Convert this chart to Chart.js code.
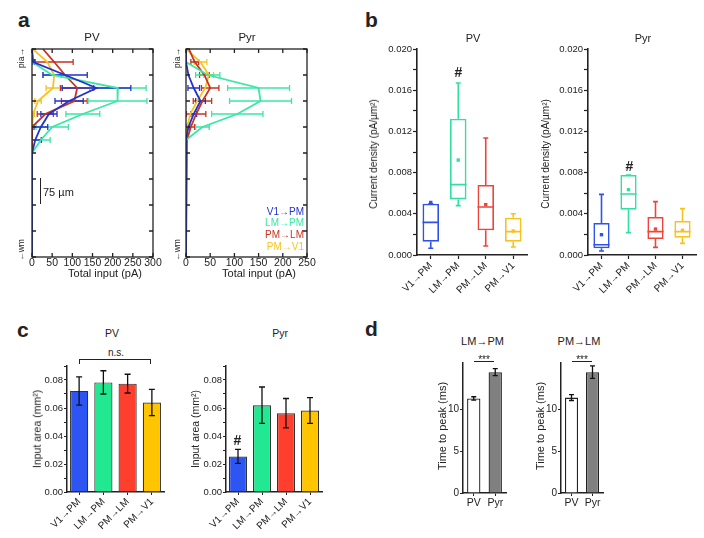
<!DOCTYPE html>
<html>
<head>
<meta charset="utf-8">
<script src="https://cdn.jsdelivr.net/npm/chart.js@4.4.1/dist/chart.umd.min.js"></script>
<style>
  body { margin: 0; width: 704px; height: 538px; position: relative; overflow: hidden; background: #fff;
         font-family: "Liberation Sans", Arial, sans-serif; color: #222; }
  canvas { position: absolute; }
  .t { position: absolute; white-space: nowrap; line-height: 1; }
  .line { position: absolute; background: #222; }
</style>
</head>
<body>
<script>
// ---- data ----
const depthBins = [0, 1, 2, 3, 4, 5, 6, 7, 8, 9, 10, 11, 12, 13, 14, 15, 16];
const pathways = ['V1→PM', 'LM→PM', 'PM→LM', 'PM→V1'];
const cellTypes = ['PV', 'Pyr'];

// panel a: total input (pA) per depth bin, pia -> wm
const pvV1PM     = [0, 3, 82, 160, 92, 42, 22, 8, 0, 0, 0, 0, 0, 0, 0, 0, 0];
const pvV1PMErr  = [0, 3, 55, 85, 35, 20, 17, 15, 0, 0, 0, 0, 0, 0, 0, 0, 0];
const pvLMPM     = [0, 0, 50, 213, 212, 126, 50, 22, 0, 0, 0, 0, 0, 0, 0, 0, 0];
const pvLMPMErr  = [0, 0, 22, 70, 73, 42, 40, 23, 0, 0, 0, 0, 0, 0, 0, 0, 0];
const pvPMLM     = [27, 55, 82, 112, 105, 33, 0, 0, 0, 0, 0, 0, 0, 0, 0, 0, 0];
const pvPMLMErr  = [0, 47, 0, 41, 32, 20, 0, 0, 0, 0, 0, 0, 0, 0, 0, 0, 0];
const pvPMV1     = [2, 38, 55, 52, 15, 3, 0, 0, 0, 0, 0, 0, 0, 0, 0, 0, 0];
const pvPMV1Err  = [0, 0, 0, 17, 8, 3, 0, 0, 0, 0, 0, 0, 0, 0, 0, 0, 0];

const pyrV1PM    = [0, 0, 5, 16, 30, 16, 5, 0, 0, 0, 0, 0, 0, 0, 0, 0, 0];
const pyrV1PMErr = [0, 0, 0, 12, 10, 6, 3, 0, 0, 0, 0, 0, 0, 0, 0, 0, 0];
const pyrLMPM    = [0, 0, 45, 150, 154, 106, 34, 0, 0, 0, 0, 0, 0, 0, 0, 0, 0];
const pyrLMPMErr = [0, 0, 25, 64, 64, 53, 14, 0, 0, 0, 0, 0, 0, 0, 0, 0, 0];
const pyrPMLM    = [6, 18, 38, 50, 34, 21, 10, 2, 0, 0, 0, 0, 0, 0, 0, 0, 0];
const pyrPMLMErr = [0, 8, 10, 18, 19, 20, 8, 0, 0, 0, 0, 0, 0, 0, 0, 0, 0];
const pyrPMV1    = [0, 30, 47, 40, 23, 9, 2, 0, 0, 0, 0, 0, 0, 0, 0, 0, 0];
const pyrPMV1Err = [0, 13, 10, 0, 0, 0, 0, 0, 0, 0, 0, 0, 0, 0, 0, 0, 0];

// panel b: current density box plots (pA/um2)
const pvMin   = [0.00065, 0.00479, 0.00087, 0.00078];
const pvQ1    = [0.00129, 0.0054, 0.0024, 0.00129];
const pvMed   = [0.00317, 0.00683, 0.00466, 0.00227];
const pvQ3    = [0.00498, 0.01324, 0.0068, 0.00362];
const pvMax   = [0.00498, 0.0167, 0.01136, 0.0040];
const pvMean  = [0.0051, 0.00922, 0.00489, 0.00233];
const pyrMin  = [0.00039, 0.00217, 0.00074, 0.00113];
const pyrQ1   = [0.00065, 0.0044, 0.00155, 0.00168];
const pyrMed  = [0.001, 0.00592, 0.00227, 0.00227];
const pyrQ3   = [0.00311, 0.00777, 0.00369, 0.0033];
const pyrMax  = [0.00589, 0.00777, 0.00518, 0.0045];
const pyrMean = [0.00197, 0.00634, 0.00252, 0.0024];

// panel c: input area (mm2)
const areaPV     = [0.0722, 0.0783, 0.0774, 0.0639];
const areaPVErr  = [0.0101, 0.0083, 0.0067, 0.0094];
const areaPyr    = [0.0254, 0.062, 0.0563, 0.0582];
const areaPyrErr = [0.005, 0.013, 0.0105, 0.0092];

// panel d: time to peak (ms)
const peakLMPM    = [11.35, 14.5];
const peakLMPMErr = [0.2, 0.42];
const peakPMLM    = [11.45, 14.5];
const peakPMLMErr = [0.35, 0.75];

// ---- styles ----
const INK = '#222';
const FONT = '"Liberation Sans", Arial, sans-serif';
const lineColors = ['#2233cc', '#3be6a6', '#c8321f', '#f5c423'];
const boxColors  = ['#2f52ea', '#2fe0a0', '#f0443a', '#f6c21d'];
const barColors  = ['#2d55f4', '#22e892', '#ff3f2e', '#ffc600'];
const PAD = { left: 6, right: 14, top: 8, bottom: 4 };

Chart.defaults.font.family = FONT;
Chart.defaults.color = INK;

function zeroPad(s) { s.paddingLeft = s.paddingRight = s.paddingTop = s.paddingBottom = 0; }
function isStep(v, s) { return Math.abs(v / s - Math.round(v / s)) < 1e-6; }

function makeChart(area, yW, xH, config) {
  const c = document.createElement('canvas');
  const w = area.x1 - area.x0 + yW + PAD.left + PAD.right;
  const h = area.y1 - area.y0 + xH + PAD.top + PAD.bottom;
  c.width = w; c.height = h;
  c.style.left = (area.x0 - yW - PAD.left) + 'px';
  c.style.top = (area.y0 - PAD.top) + 'px';
  c.style.width = w + 'px'; c.style.height = h + 'px';
  document.body.appendChild(c);
  const o = config.options;
  o.responsive = false;
  o.animation = false;
  o.layout = { padding: PAD };
  o.plugins = { legend: { display: false }, tooltip: { enabled: false } };
  o.scales.x.afterFit = s => { s.height = xH; zeroPad(s); };
  o.scales.y.afterFit = s => { s.width = yW; zeroPad(s); };
  return new Chart(c, config);
}

function txt(s, x, base, size, opt) {
  opt = opt || {};
  const d = document.createElement('div');
  d.className = 't';
  d.textContent = s;
  d.style.fontSize = size + 'px';
  if (opt.bold) d.style.fontWeight = 'bold';
  if (opt.color) d.style.color = opt.color;
  d.style.left = x + 'px';
  if (opt.rot) {
    d.style.top = base + 'px';
    d.style.transform = 'translate(-50%,-50%) rotate(-90deg)';
  } else {
    d.style.top = (base - 0.8465 * size) + 'px';
    const a = opt.align || 'center';
    d.style.transform = a === 'center' ? 'translateX(-50%)' : a === 'right' ? 'translateX(-100%)' : 'none';
  }
  document.body.appendChild(d);
}

function rule(x, y, w, h) {
  const d = document.createElement('div');
  d.className = 'line';
  Object.assign(d.style, { left: x + 'px', top: y + 'px', width: w + 'px', height: h + 'px' });
  document.body.appendChild(d);
}

// ---- plugins ----
const frame = {
  id: 'frame',
  afterDraw(chart) {
    const { ctx, chartArea: a, scales: { x, y } } = chart;
    ctx.save();
    ctx.strokeStyle = INK; ctx.lineWidth = 1.3;
    ctx.strokeRect(a.left, a.top, a.right - a.left, a.bottom - a.top);
    ctx.beginPath();
    x.ticks.forEach(t => {
      const p = x.getPixelForValue(t.value);
      ctx.moveTo(p, a.top); ctx.lineTo(p, a.top + 4);
      ctx.moveTo(p, a.bottom); ctx.lineTo(p, a.bottom - 4);
    });
    y.ticks.forEach(t => {
      const p = y.getPixelForValue(t.value);
      ctx.moveTo(a.left, p); ctx.lineTo(a.left + 4, p);
      ctx.moveTo(a.right, p); ctx.lineTo(a.right - 4, p);
    });
    ctx.stroke();
    ctx.restore();
  }
};

const hErr = {
  id: 'hErr',
  beforeDatasetsDraw(chart) {
    const { ctx, chartArea: a, scales: { x, y } } = chart;
    ctx.save();
    ctx.beginPath(); ctx.rect(a.left, a.top, a.right - a.left, a.bottom - a.top); ctx.clip();
    ctx.lineWidth = 1.3;
    chart.data.datasets.slice().reverse().forEach(ds => {
      ctx.strokeStyle = ds.borderColor;
      ds.errs.forEach((e, i) => {
        if (!e) return;
        const v = ds.vals[i], py = y.getPixelForValue(depthBins[i]);
        const xa = x.getPixelForValue(v - e), xb = x.getPixelForValue(v + e);
        ctx.beginPath();
        ctx.moveTo(xa, py); ctx.lineTo(xb, py);
        ctx.moveTo(xa, py - 3); ctx.lineTo(xa, py + 3);
        ctx.moveTo(xb, py - 3); ctx.lineTo(xb, py + 3);
        ctx.stroke();
      });
    });
    ctx.restore();
  }
};

function whiskers(st) {
  return {
    id: 'whiskers',
    beforeDatasetsDraw(chart) {
      const { ctx, scales: { x, y } } = chart;
      const bars = chart.getDatasetMeta(0).data;
      ctx.save();
      ctx.lineWidth = 1.6;
      st.med.forEach((m, i) => {
        const px = x.getPixelForValue(i), half = bars[i].width / 2, cap = 2.5;
        const yMax = y.getPixelForValue(st.max[i]), yMin = y.getPixelForValue(st.min[i]);
        ctx.strokeStyle = boxColors[i];
        ctx.beginPath();
        ctx.moveTo(px, y.getPixelForValue(st.q3[i])); ctx.lineTo(px, yMax);
        ctx.moveTo(px - cap, yMax); ctx.lineTo(px + cap, yMax);
        ctx.moveTo(px, y.getPixelForValue(st.q1[i])); ctx.lineTo(px, yMin);
        ctx.moveTo(px - cap, yMin); ctx.lineTo(px + cap, yMin);
        const ym = y.getPixelForValue(m);
        ctx.moveTo(px - half, ym); ctx.lineTo(px + half, ym);
        ctx.stroke();
      });
      ctx.restore();
    }
  };
}

function vErr(vals, errs, cap) {
  return {
    id: 'vErr',
    afterDatasetsDraw(chart) {
      const { ctx, scales: { x, y } } = chart;
      ctx.save();
      ctx.strokeStyle = '#111'; ctx.lineWidth = 1.3;
      vals.forEach((v, i) => {
        const px = x.getPixelForValue(i);
        const ya = y.getPixelForValue(v + errs[i]), yb = y.getPixelForValue(v - errs[i]);
        ctx.beginPath();
        ctx.moveTo(px, ya); ctx.lineTo(px, yb);
        ctx.moveTo(px - cap, ya); ctx.lineTo(px + cap, ya);
        ctx.moveTo(px - cap, yb); ctx.lineTo(px + cap, yb);
        ctx.stroke();
      });
      ctx.restore();
    }
  };
}

// ---- panel a ----
function depthChart(area, xMax, series) {
  makeChart(area, 0, 16, {
    type: 'scatter',
    data: {
      datasets: series.map((s, k) => ({
        data: s.vals.map((v, i) => ({ x: v, y: depthBins[i] })),
        vals: s.vals, errs: s.errs,
        borderColor: lineColors[k], backgroundColor: lineColors[k],
        showLine: true, pointRadius: 0, borderWidth: 1.8
      }))
    },
    options: {
      scales: {
        x: { type: 'linear', min: 0, max: xMax,
             ticks: { stepSize: 50, autoSkip: false, font: { size: 10.5 }, padding: 0, maxRotation: 0 },
             grid: { display: false, drawTicks: false, tickLength: 0 }, border: { display: false } },
        y: { type: 'linear', reverse: true, min: 0, max: 16,
             ticks: { display: false, stepSize: 2 },
             grid: { display: false, drawTicks: false, tickLength: 0 }, border: { display: false } }
      }
    },
    plugins: [hErr, frame]
  });
}

depthChart({ x0: 32, x1: 153, y0: 49, y1: 257 }, 300, [
  { vals: pvV1PM, errs: pvV1PMErr }, { vals: pvLMPM, errs: pvLMPMErr },
  { vals: pvPMLM, errs: pvPMLMErr }, { vals: pvPMV1, errs: pvPMV1Err }
]);
depthChart({ x0: 186, x1: 307, y0: 49, y1: 257 }, 250, [
  { vals: pyrV1PM, errs: pyrV1PMErr }, { vals: pyrLMPM, errs: pyrLMPMErr },
  { vals: pyrPMLM, errs: pyrPMLMErr }, { vals: pyrPMV1, errs: pyrPMV1Err }
]);

// ---- panel b ----
function boxChart(area, st) {
  makeChart(area, 36, 44, {
    type: 'bar',
    data: {
      labels: pathways,
      datasets: [
        { data: st.q1.map((v, i) => [v, st.q3[i]]), backgroundColor: 'rgba(255,255,255,0)',
          borderColor: boxColors, borderWidth: 1.6, borderSkipped: false,
          barPercentage: 0.6, categoryPercentage: 1 },
        { type: 'line', data: st.mean, showLine: false, pointStyle: 'rect', pointRadius: 2.4,
          pointBackgroundColor: boxColors, pointBorderColor: boxColors, pointBorderWidth: 0 }
      ]
    },
    options: {
      scales: {
        x: { offset: true,
             grid: { offset: false, drawOnChartArea: false, tickLength: 4, color: INK, tickWidth: 1.2 },
             border: { color: INK, width: 1.6 },
             ticks: { minRotation: 45, maxRotation: 45, font: { size: 10 }, padding: 1 } },
        y: { min: 0, max: 0.02,
             ticks: { stepSize: 0.002, autoSkip: false, font: { size: 9.5 }, padding: 1,
                      callback: v => isStep(v, 0.004) ? v.toFixed(3) : '' },
             grid: { drawOnChartArea: false, tickLength: 4, color: INK, tickWidth: 1.2 },
             border: { color: INK, width: 1.6 } }
      }
    },
    plugins: [whiskers(st)]
  });
}

boxChart({ x0: 417, x1: 527, y0: 49, y1: 255 },
  { min: pvMin, q1: pvQ1, med: pvMed, q3: pvQ3, max: pvMax, mean: pvMean });
boxChart({ x0: 588, x1: 696, y0: 49, y1: 255 },
  { min: pyrMin, q1: pyrQ1, med: pyrMed, q3: pyrQ3, max: pyrMax, mean: pyrMean });

// ---- panel c ----
function areaChart(area, vals, errs) {
  makeChart(area, 32, 44, {
    type: 'bar',
    data: {
      labels: pathways,
      datasets: [{ data: vals, backgroundColor: barColors, borderColor: '#333', borderWidth: 1.2,
                   barPercentage: 0.75, categoryPercentage: 1 }]
    },
    options: {
      scales: {
        x: { grid: { offset: false, drawOnChartArea: false, tickLength: 3, color: INK },
             border: { color: INK, width: 1.5 },
             ticks: { minRotation: 45, maxRotation: 45, font: { size: 10 }, padding: 1 } },
        y: { min: 0, max: 0.09,
             ticks: { stepSize: 0.01, autoSkip: false, font: { size: 9.5 }, padding: 1,
                      callback: v => isStep(v, 0.02) ? v.toFixed(2) : '' },
             grid: { drawOnChartArea: false, tickLength: 3, color: INK },
             border: { color: INK, width: 1.5 } }
      }
    },
    plugins: [vErr(vals, errs, 3)]
  });
}

areaChart({ x0: 67, x1: 164, y0: 366, y1: 492 }, areaPV, areaPVErr);
areaChart({ x0: 226, x1: 322, y0: 366, y1: 492 }, areaPyr, areaPyrErr);

// ---- panel d ----
function peakChart(area, vals, errs) {
  makeChart(area, 20, 16, {
    type: 'bar',
    data: {
      labels: cellTypes,
      datasets: [{ data: vals, backgroundColor: ['#ffffff', '#808080'], borderColor: INK, borderWidth: 1.3,
                   barPercentage: 0.62, categoryPercentage: 1 }]
    },
    options: {
      scales: {
        x: { grid: { offset: false, drawOnChartArea: false, tickLength: 3, color: INK },
             border: { color: INK, width: 1.5 },
             ticks: { maxRotation: 0, font: { size: 10.5 }, padding: 1 } },
        y: { min: 0, max: 15.6,
             ticks: { stepSize: 5, font: { size: 10 }, padding: 1 },
             afterBuildTicks: s => { s.ticks = s.ticks.filter(t => isStep(t.value, 5)); },
             grid: { drawOnChartArea: false, tickLength: 3, color: INK },
             border: { color: INK, width: 1.5 } }
      }
    },
    plugins: [vErr(vals, errs, 2.5)]
  });
}

peakChart({ x0: 463, x1: 506, y0: 363, y1: 493 }, peakLMPM, peakLMPMErr);
peakChart({ x0: 561, x1: 603, y0: 363, y1: 493 }, peakPMLM, peakPMLMErr);

// ---- text & annotations ----
txt('a', 18, 27, 21, { bold: true, align: 'left' });
txt('b', 365, 27, 21, { bold: true, align: 'left' });
txt('c', 17, 337, 21, { bold: true, align: 'left' });
txt('d', 365, 336, 21, { bold: true, align: 'left' });

// a
txt('PV', 92, 42, 11.5);
txt('Pyr', 247, 42, 11.5);
txt('Total input (pA)', 105, 277, 11);
txt('Total input (pA)', 259, 277, 11);
txt('pia→', 21, 58, 8.5, { rot: true });
txt('←wm', 21, 250, 8.5, { rot: true });
txt('pia→', 177, 58, 8.5, { rot: true });
txt('←wm', 177, 250, 8.5, { rot: true });
rule(39.5, 178, 1.2, 26);
txt('75 µm', 43, 196, 11, { align: 'left' });
pathways.forEach((p, i) => txt(p, 304, [215, 226.5, 238, 250.5][i], 10, { align: 'right', color: lineColors[i] }));

// b
txt('PV', 473, 42.7, 11);
txt('Pyr', 643, 42.7, 11);
txt('Current density (pA/µm²)', 374, 154, 10, { rot: true });
txt('Current density (pA/µm²)', 546, 154, 10, { rot: true });
txt('#', 458.5, 77, 14, { bold: true });
txt('#', 629.5, 171, 14, { bold: true });

// c
txt('PV', 112, 336.5, 10.5);
txt('Pyr', 280, 336.5, 10.5);
txt('Input area (mm²)', 37, 429, 10.5, { rot: true });
txt('Input area (mm²)', 195, 429, 10.5, { rot: true });
txt('n.s.', 116, 356, 10);
rule(79, 359, 72, 1.2);
rule(79, 359, 1.2, 4.5);
rule(150, 359, 1.2, 4.5);
txt('#', 237.5, 445, 14, { bold: true });

// d
txt('LM→PM', 482.5, 345, 11);
txt('PM→LM', 579, 345, 11);
txt('***', 484, 363, 10);
txt('***', 582, 363, 10);
rule(474, 360.5, 20, 1.2);
rule(572, 360.5, 20, 1.2);
txt('Time to peak (ms)', 442, 426, 11, { rot: true });
txt('Time to peak (ms)', 540, 426, 11, { rot: true });
</script>
</body>
</html>
